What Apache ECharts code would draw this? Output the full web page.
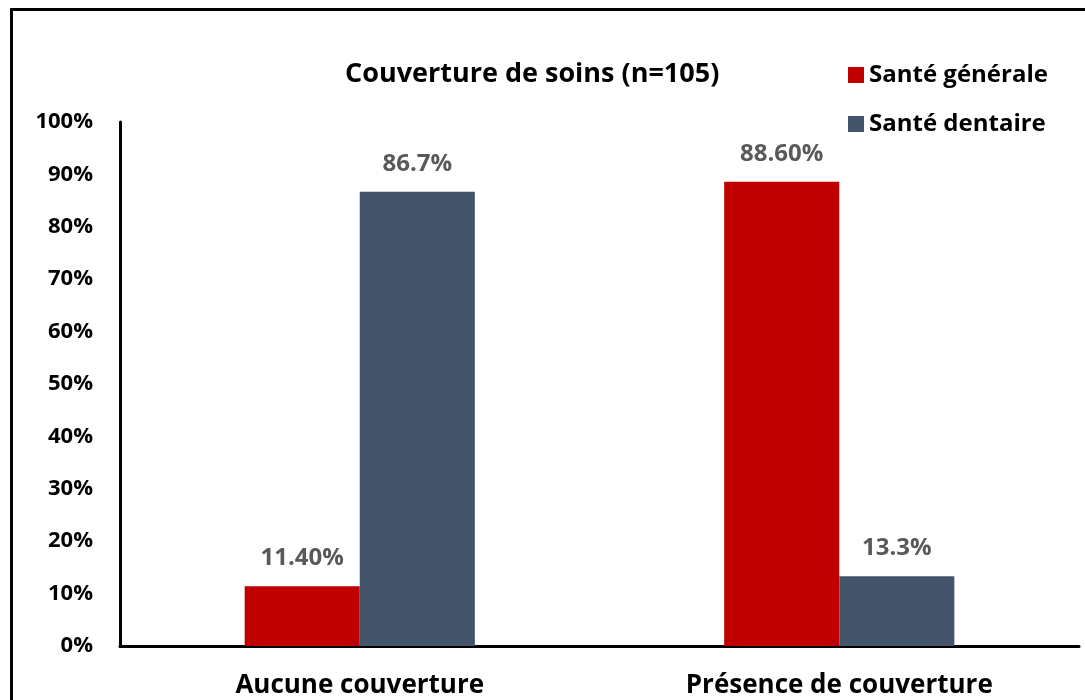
<!DOCTYPE html>
<html>
<head>
<meta charset="utf-8">
<script src="https://cdn.jsdelivr.net/npm/echarts@6/dist/echarts.min.js"></script>
<style>
  html, body { margin: 0; padding: 0; background: #fff; overflow: hidden; }
  #chart { width: 1085px; height: 700px; }
</style>
</head>
<body>
<div id="chart"></div>
<script>
// data
var categories = ['Aucune couverture', 'Présence de couverture']
var santeGenerale = [11.4, 88.6]
var santeDentaire = [86.7, 13.3]
var yTicks = [0, 10, 20, 30, 40, 50, 60, 70, 80, 90, 100]

var font = '"Open Sans", sans-serif'
var chart = echarts.init(document.getElementById('chart'))

chart.setOption({
  animation: false,
  textStyle: { fontFamily: font },
  title: {
    text: 'Couverture de soins (n=105)',
    left: 340,
    top: 56,
    textStyle: { fontSize: 27, fontWeight: 'bold', color: '#000', fontFamily: font }
  },
  legend: {
    orient: 'vertical',
    left: 843,
    top: 58,
    itemWidth: 16,
    itemHeight: 16,
    itemGap: 25,
    icon: 'rect',
    textStyle: { fontSize: 24, fontWeight: 'bold', color: '#000', fontFamily: font }
  },
  // outer frame: only left and top edges fall inside the picture
  graphic: [
    {
      type: 'polyline',
      shape: { points: [[11.5, 700], [11.5, 9.5], [1085, 9.5]] },
      style: { fill: 'none', stroke: '#000', lineWidth: 3 },
      silent: true
    },
    {
      type: 'rect',
      z: 100,
      shape: { x: 1081, y: 12, width: 10, height: 700 },
      style: { fill: '#fff' },
      silent: true
    }
  ],
  grid: { left: 120, right: 6, top: 122, bottom: 54 },
  xAxis: {
    type: 'category',
    data: categories,
    axisLine: { lineStyle: { color: '#000', width: 3 } },
    axisTick: { show: false },
    axisLabel: { fontSize: 26, fontWeight: 'bold', color: '#000', margin: 27, fontFamily: font }
  },
  yAxis: {
    type: 'value',
    min: yTicks[0],
    max: yTicks[yTicks.length - 1],
    interval: 10,
    axisLine: { show: true, lineStyle: { color: '#000', width: 3 } },
    axisTick: { show: false },
    splitLine: { show: false },
    axisLabel: {
      fontSize: 22, fontWeight: 'bold', color: '#000', margin: 27, fontFamily: font,
      formatter: function (v) { return v + '%' }
    }
  },
  series: [
    {
      name: 'Santé générale',
      type: 'bar',
      data: santeGenerale,
      barGap: '0%',
      barCategoryGap: '52%',
      itemStyle: { color: '#C00000' },
      label: {
        show: true, position: 'top', distance: 16,
        fontSize: 24, fontWeight: 'bold', color: '#595959', fontFamily: font,
        formatter: function (p) { return p.value.toFixed(2) + '%' }
      }
    },
    {
      name: 'Santé dentaire',
      type: 'bar',
      data: santeDentaire,
      itemStyle: { color: '#44546A' },
      label: {
        show: true, position: 'top', distance: 16,
        fontSize: 24, fontWeight: 'bold', color: '#595959', fontFamily: font,
        formatter: function (p) { return p.value.toFixed(1) + '%' }
      }
    }
  ]
})
</script>
</body>
</html>
